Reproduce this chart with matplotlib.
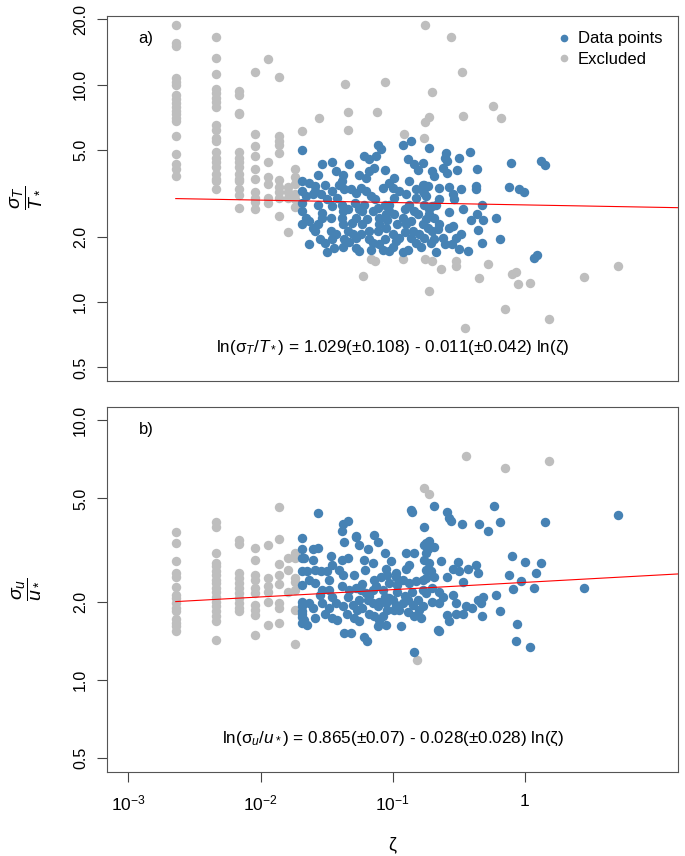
import numpy as np
import matplotlib
matplotlib.use('Agg')
import matplotlib.pyplot as plt
from matplotlib.lines import Line2D

plt.rcParams['font.family'] = ['Liberation Sans', 'DejaVu Sans']
plt.rcParams['mathtext.fontset'] = 'custom'
plt.rcParams['mathtext.rm'] = 'Liberation Sans'
plt.rcParams['mathtext.it'] = 'Liberation Sans:italic'
plt.rcParams['mathtext.sf'] = 'Liberation Sans'

BLUE = '#4682B4'
GREY = '#BEBEBE'

# zeta of the low-zeta columns (all excluded)
col_zeta = [0.00228, 0.00456, 0.00684, 0.00912, 0.0114, 0.0137, 0.0160, 0.0182]

# ---- panel a : sigma_T / T* ----
a_col_sig = [
    [18.8, 15.6, 15.0, 10.7, 10.3, 10.0, 9.0, 8.6, 8.2, 7.9, 7.6, 7.3, 7.0, 6.8, 5.8, 4.8, 4.3, 4.1, 3.8],
    [16.5, 13.3, 11.2, 9.6, 9.2, 8.7, 8.3, 7.9, 6.5, 6.2, 5.7, 5.5, 4.9, 4.6, 4.4, 4.2, 3.9, 3.7, 3.6, 3.3],
    [9.4, 9.0, 7.4, 7.3, 4.9, 4.6, 4.4, 4.2, 3.9, 3.7, 3.6, 3.3, 3.1, 2.7],
    [11.4, 5.9, 5.2, 4.7, 4.1, 3.7, 3.2, 3.0, 2.9, 2.67],
    [13.1, 4.4, 3.75, 3.5, 3.0, 2.85],
    [10.8, 5.8, 5.5, 5.3, 4.85, 3.66, 3.4, 3.2, 3.0, 2.5],
    [3.4, 3.2, 3.0, 2.1],
    [4.1, 3.75, 3.5, 3.15, 2.97, 2.75],
]
a_excl_other = [
    (0.0205, 6.1), (0.175, 18.8), (0.274, 16.6), (0.333, 11.4), (0.0436, 10.1), (0.0876, 10.3),
    (0.197, 9.25), (0.573, 8.0), (0.658, 7.0), (0.0459, 7.5), (0.0762, 7.5), (0.0459, 6.2),
    (0.19, 7.1), (0.175, 6.7), (0.341, 7.2), (0.122, 5.9), (0.173, 5.7), (0.0275, 7.0),
    (0.0686, 1.57), (0.0738, 1.55), (0.0593, 1.32), (0.119, 1.57), (0.175, 1.57), (0.199, 1.55),
    (0.234, 1.42), (0.302, 1.55), (0.302, 1.47), (0.187, 1.12), (0.454, 1.29), (0.525, 1.49),
    (0.80, 1.35), (0.86, 1.38), (0.885, 1.21), (1.10, 1.22), (0.714, 0.93), (1.52, 0.84),
    (0.354, 0.76), (2.82, 1.30), (5.1, 1.46),
]
a_data = [
    (0.0205, 5.0), (0.029, 4.3), (0.035, 4.4), (0.037, 4.0), (0.042, 3.86), (0.047, 4.3),
    (0.027, 3.86), (0.0234, 3.53), (0.0256, 3.41), (0.0205, 3.6), (0.031, 3.47), (0.0395, 3.47),
    (0.041, 3.6), (0.035, 3.25), (0.0205, 3.25), (0.022, 3.07), (0.0205, 2.86), (0.025, 3.13),
    (0.026, 3.25), (0.0285, 3.13), (0.048, 3.3), (0.053, 3.18), (0.061, 4.7), (0.0667, 4.53),
    (0.075, 4.7), (0.077, 5.3), (0.082, 5.04), (0.0667, 4.0), (0.063, 3.73), (0.0727, 4.15),
    (0.058, 3.35), (0.063, 3.25), (0.069, 3.07), (0.084, 3.35), (0.0944, 3.53), (0.10, 3.35),
    (0.119, 5.3), (0.138, 5.5), (0.13, 4.53), (0.146, 4.3), (0.155, 4.07), (0.134, 3.6),
    (0.15, 3.3), (0.17, 3.47), (0.112, 3.25), (0.126, 3.13), (0.0205, 2.62), (0.022, 2.44),
    (0.0205, 2.28), (0.0234, 2.36), (0.025, 2.2), (0.0256, 2.13), (0.029, 2.58), (0.029, 2.44),
    (0.035, 2.76), (0.034, 2.44), (0.041, 2.81), (0.042, 2.62), (0.041, 2.44), (0.042, 2.28),
    (0.034, 2.13), (0.037, 2.05), (0.035, 1.94), (0.046, 2.13), (0.050, 2.05), (0.053, 2.44),
    (0.059, 2.62), (0.061, 2.81), (0.059, 2.28), (0.0667, 2.13), (0.071, 2.62), (0.077, 2.71),
    (0.079, 2.44), (0.079, 2.28), (0.089, 2.2), (0.077, 2.13), (0.0944, 2.81), (0.0944, 2.62),
    (0.089, 2.53), (0.10, 2.05), (0.112, 1.98), (0.106, 1.9), (0.119, 2.44), (0.126, 2.28),
    (0.134, 2.81), (0.146, 2.62), (0.155, 2.53), (0.142, 2.13), (0.159, 2.05), (0.169, 2.28),
    (0.15, 3.02), (0.174, 3.18), (0.031, 1.87), (0.032, 1.7), (0.042, 1.8), (0.043, 1.94),
    (0.053, 1.77), (0.056, 1.72), (0.0667, 1.94), (0.071, 1.87), (0.079, 1.84), (0.084, 1.74),
    (0.0944, 1.72), (0.10, 1.8), (0.119, 1.7), (0.13, 1.74), (0.15, 1.87), (0.164, 1.8),
    (0.053, 1.98), (0.058, 2.05), (0.036, 1.77),
    (0.187, 5.1), (0.254, 4.85), (0.247, 4.62), (0.26, 4.45), (0.317, 4.62), (0.386, 4.9),
    (0.169, 4.37), (0.2, 4.0), (0.207, 3.8), (0.24, 4.15), (0.26, 3.93), (0.305, 4.07),
    (0.435, 4.1), (0.79, 4.37), (1.33, 4.45), (1.43, 4.25), (0.174, 3.47), (0.185, 3.41),
    (0.169, 3.25), (0.226, 3.35), (0.265, 3.37), (0.285, 3.15), (0.293, 2.97), (0.43, 3.41),
    (0.43, 3.3), (0.757, 3.37), (0.91, 3.3), (0.99, 3.21), (0.18, 3.07), (0.174, 2.81),
    (0.19, 2.67), (0.2, 2.76), (0.213, 2.81), (0.475, 2.81), (0.343, 2.68), (0.269, 2.6),
    (0.433, 2.55), (0.393, 2.38), (0.486, 2.38), (0.607, 2.44), (0.19, 2.53), (0.207, 2.44),
    (0.18, 2.4), (0.226, 2.28), (0.22, 2.16), (0.269, 2.2), (0.285, 2.23), (0.185, 2.18),
    (0.2, 2.13), (0.44, 2.14), (0.24, 1.98), (0.207, 1.94), (0.196, 1.87), (0.302, 1.98),
    (0.282, 1.84), (0.32, 1.76), (0.37, 1.72), (0.213, 1.7), (0.475, 1.86), (0.654, 1.94),
    (1.18, 1.6), (1.23, 1.64),
    (0.027, 2.81), (0.032, 2.97), (0.038, 3.02), (0.046, 2.67), (0.052, 2.86), (0.056, 2.67),
    (0.064, 2.4), (0.073, 2.97), (0.087, 2.81), (0.103, 2.53), (0.108, 2.28), (0.123, 2.67),
    (0.138, 2.36), (0.103, 3.02), (0.087, 1.94), (0.069, 1.74), (0.047, 1.89), (0.028, 1.94),
    (0.0234, 1.84), (0.027, 2.28), (0.049, 2.3), (0.091, 2.38), (0.123, 2.1), (0.138, 1.98),
    (0.174, 1.98), (0.247, 1.84), (0.33, 2.05), (0.226, 2.97), (0.33, 3.3), (0.103, 3.73),
    (0.087, 4.07), (0.056, 3.86), (0.043, 3.3),
]

# ---- panel b : sigma_u / u* ----
b_col_sig = [
    [3.72, 3.37, 2.86, 2.57, 2.5, 2.27, 2.12, 2.06, 1.97, 1.9, 1.84, 1.72, 1.66, 1.61, 1.55],
    [4.07, 3.87, 3.07, 2.82, 2.74, 2.62, 2.54, 2.43, 2.36, 2.26, 2.19, 2.09, 2.0, 1.92, 1.84, 1.76, 1.69, 1.42],
    [3.47, 3.34, 2.57, 2.46, 2.36, 2.26, 2.16, 2.06, 1.97, 1.89, 1.84],
    [3.21, 2.9, 2.54, 2.43, 2.26, 2.16, 1.94, 1.86, 1.78, 1.49],
    [3.31, 2.46, 2.29, 2.19, 1.99, 1.63],
    [4.63, 3.49, 2.8, 2.54, 2.34, 1.97, 1.89, 1.66],
    [2.94, 2.65, 2.19],
    [3.07, 2.94, 2.46, 2.38, 2.22, 1.86, 1.37],
]
b_excl_other = [(0.356, 7.29), (0.714, 6.53), (1.52, 6.97), (0.172, 5.46), (0.187, 5.19), (0.154, 1.19)]
b_data = [
    (0.0205, 3.51), (0.0205, 3.2), (0.0205, 2.94), (0.0205, 2.62), (0.0205, 2.32), (0.0205, 2.0),
    (0.0205, 1.92), (0.0205, 1.84), (0.0205, 1.74), (0.0205, 1.66),
    (0.027, 4.4), (0.042, 4.0), (0.046, 4.1), (0.041, 3.73), (0.043, 3.4), (0.053, 3.55),
    (0.0727, 3.6), (0.077, 3.4), (0.025, 3.2), (0.027, 3.21), (0.0214, 2.94), (0.025, 2.9),
    (0.034, 3.0), (0.041, 2.9), (0.046, 2.94), (0.061, 2.9), (0.065, 3.2), (0.087, 3.07),
    (0.0225, 2.62), (0.0256, 2.65), (0.0285, 2.62), (0.032, 2.63), (0.0395, 2.65), (0.042, 2.54),
    (0.062, 2.65), (0.082, 2.5), (0.089, 2.68), (0.106, 2.57), (0.126, 2.68), (0.134, 2.77),
    (0.126, 3.07), (0.146, 3.08), (0.138, 4.52), (0.14, 4.45), (0.18, 3.31),
    (0.0234, 2.43), (0.026, 2.36), (0.029, 2.22), (0.033, 2.22), (0.035, 2.09), (0.041, 2.29),
    (0.047, 2.22), (0.053, 2.26), (0.058, 2.22), (0.063, 2.16), (0.071, 2.22), (0.075, 2.29),
    (0.084, 2.22), (0.0944, 2.36), (0.106, 2.5), (0.119, 2.43), (0.134, 2.36), (0.15, 2.4),
    (0.169, 2.43), (0.0234, 1.97), (0.025, 1.89), (0.0205, 1.8), (0.0214, 1.7), (0.0225, 1.63),
    (0.0256, 1.73), (0.029, 1.97), (0.033, 1.89), (0.031, 1.8), (0.037, 1.97), (0.042, 1.92),
    (0.045, 1.8), (0.035, 1.73), (0.038, 1.7), (0.05, 1.94), (0.054, 1.86), (0.059, 1.89),
    (0.051, 1.73), (0.056, 1.68), (0.065, 2.03), (0.071, 1.97), (0.077, 1.92), (0.0667, 1.8),
    (0.0727, 1.76), (0.079, 1.7), (0.087, 2.09), (0.089, 1.97), (0.091, 1.86), (0.084, 1.76),
    (0.089, 1.63), (0.10, 2.03), (0.106, 1.94), (0.112, 1.86), (0.119, 1.97), (0.13, 2.03),
    (0.142, 1.94), (0.146, 1.76), (0.164, 1.73), (0.116, 1.61), (0.043, 1.52), (0.048, 1.52),
    (0.061, 1.47), (0.064, 1.41), (0.077, 1.61), (0.146, 1.28), (0.071, 2.81), (0.174, 2.9),
    (0.18, 3.07), (0.18, 3.37), (0.053, 3.57),
    (0.207, 4.68), (0.26, 4.42), (0.269, 4.2), (0.278, 4.08), (0.333, 3.99), (0.454, 3.99),
    (0.525, 3.74), (0.58, 4.68), (0.654, 4.04), (1.43, 4.06), (0.174, 3.87), (0.19, 3.44),
    (0.174, 3.31), (0.185, 3.2), (0.207, 3.25), (0.19, 2.83), (0.18, 2.65), (0.196, 2.62),
    (0.207, 2.5), (0.18, 2.46), (0.232, 2.88), (0.285, 2.68), (0.31, 2.85), (0.32, 2.62),
    (0.37, 2.68), (0.43, 2.77), (0.44, 2.57), (0.339, 2.38), (0.26, 2.5), (0.765, 2.54),
    (0.8, 3.0), (1.0, 2.84), (1.33, 2.83), (1.22, 2.59), (0.93, 2.4), (0.81, 2.24),
    (1.17, 2.26), (0.607, 2.12), (0.44, 2.03), (0.48, 2.09), (0.47, 1.97), (0.4, 1.9),
    (0.36, 1.92), (0.654, 1.84), (0.472, 1.77), (0.339, 1.8), (0.302, 1.8), (0.26, 1.78),
    (0.269, 1.68), (0.876, 1.64), (0.86, 1.41), (1.1, 1.34), (0.22, 1.56), (0.226, 1.54),
    (0.169, 2.22), (0.18, 2.16), (0.2, 2.26), (0.226, 2.19), (0.24, 2.09), (0.2, 2.0),
    (0.226, 1.97), (0.169, 1.92), (0.285, 2.12), (0.302, 1.97), (2.82, 2.25), (5.1, 4.3),
    (0.046, 2.09), (0.056, 2.03), (0.0667, 2.11), (0.079, 2.0), (0.0944, 2.07), (0.108, 2.19),
    (0.123, 2.11), (0.14, 2.19), (0.155, 2.03), (0.059, 2.34), (0.0727, 2.43), (0.103, 1.86),
    (0.13, 1.82), (0.159, 1.86), (0.091, 2.54), (0.051, 2.54), (0.033, 2.43), (0.028, 2.12),
    (0.035, 2.77), (0.056, 3.3), (0.097, 2.86), (0.108, 2.32),
]

# fitted ln(sigma) = c0 + c1 ln(zeta)
fit_a = (1.029, -0.011)
fit_b = (0.865, 0.028)
eq_a = 'ln(σ$_T$/$T_*$) = 1.029(±0.108) - 0.011(±0.042) ln(ζ)'
eq_b = 'ln(σ$_u$/$u_*$) = 0.865(±0.07) - 0.028(±0.028) ln(ζ)'


def split_excl(col_sig, other):
    xs, ys = [], []
    for z, col in zip(col_zeta, col_sig):
        xs += [z] * len(col)
        ys += col
    for z, s in other:
        xs.append(z)
        ys.append(s)
    return np.array(xs), np.array(ys)


def rlim(lo, hi):
    # R style 4% padding in log space
    l, h = np.log10(lo), np.log10(hi)
    p = 0.04 * (h - l)
    return 10 ** (l - p), 10 ** (h + p)


fig = plt.figure(figsize=(6.85, 8.56), dpi=100)
ax_a = fig.add_axes([0.1567, 0.5549, 0.8331, 0.4268])
ax_b = fig.add_axes([0.1567, 0.0985, 0.8331, 0.4264])

panels = [
    (ax_a, a_col_sig, a_excl_other, a_data, fit_a, eq_a, 'a)', rlim(0.5, 18),
     [0.5, 1, 2, 5, 10, 20], r'$\dfrac{\sigma_T}{T_*}$'),
    (ax_b, b_col_sig, b_excl_other, b_data, fit_b, eq_b, 'b)', rlim(0.5, 10),
     [0.5, 1, 2, 5, 10], r'$\dfrac{\sigma_u}{u_*}$'),
]

for ax, col_sig, other, data, fit, eq, tag, ylim, yt, ylab in panels:
    xe, ye = split_excl(col_sig, other)
    xd, yd = np.array(data).T
    ax.plot(xe, ye, 'o', ms=6.8, color=GREY, mec='none', zorder=2)
    ax.plot(xd, yd, 'o', ms=6.8, color=BLUE, mec='none', zorder=3)
    zl = np.logspace(np.log10(xe.min()), 2, 50)
    ax.plot(zl, np.exp(fit[0] + fit[1] * np.log(zl)), color='red', lw=0.8, zorder=4)
    ax.set_xscale('log')
    ax.set_yscale('log')
    ax.set_xlim(rlim(1e-3, 10))
    ax.set_ylim(ylim)
    ax.minorticks_off()
    ax.set_yticks(yt)
    ax.set_yticklabels(['%.1f' % v for v in yt], rotation=90, va='center', fontsize=11.5)
    ax.tick_params(axis='both', length=7, width=0.8, color='#444444', pad=7)
    for s in ax.spines.values():
        s.set_color('#555555')
        s.set_linewidth(0.8)
    ax.text(0.055, 0.937, tag, transform=ax.transAxes, fontsize=12, va='center', ha='left')
    ax.text(0.5, 0.091, eq, transform=ax.transAxes, fontsize=12.3, va='center', ha='center')
    ax.set_ylabel(ylab, fontsize=14, va='center')
    ax.yaxis.set_label_coords(-0.143, 0.5)

ax_a.set_xticks([])
ax_b.set_xticks([1e-3, 1e-2, 1e-1, 1])
ax_b.set_xticklabels([r'$10^{-3}$', r'$10^{-2}$', r'$10^{-1}$', '1'], fontsize=12.5)
ax_b.tick_params(axis='x', pad=9)
ax_b.set_xlabel('ζ', fontsize=13, va='center')
ax_b.xaxis.set_label_coords(0.5, -0.2)

handles = [
    Line2D([], [], marker='o', ls='none', ms=5.5, color=BLUE, mec='none', label='Data points'),
    Line2D([], [], marker='o', ls='none', ms=5.5, color=GREY, mec='none', label='Excluded'),
]
ax_a.legend(handles=handles, loc='upper right', frameon=False, fontsize=12,
            handletextpad=0.2, labelspacing=0.35, borderaxespad=0.55, handlelength=1.2)

fig.savefig('out.png', dpi=100)
